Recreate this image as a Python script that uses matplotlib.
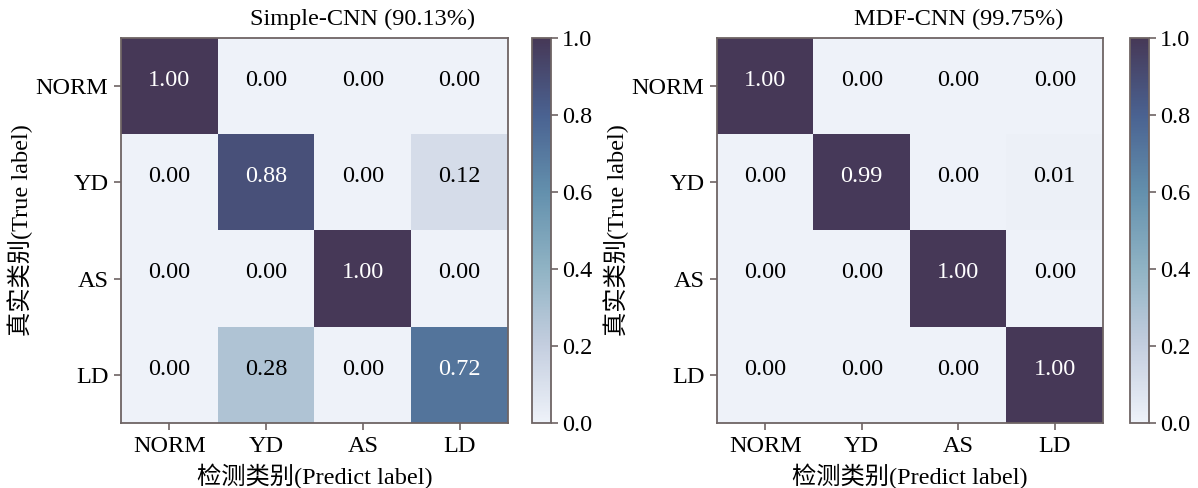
import numpy as np
import matplotlib
matplotlib.use("Agg")
import matplotlib.pyplot as plt
from matplotlib.colors import LinearSegmentedColormap

classes = ["NORM", "YD", "AS", "LD"]
simple_title = "Simple-CNN (90.13%)"
mdf_title = "MDF-CNN (99.75%)"
simple_cm = [[1.00, 0.00, 0.00, 0.00],
             [0.00, 0.88, 0.00, 0.12],
             [0.00, 0.00, 1.00, 0.00],
             [0.00, 0.28, 0.00, 0.72]]
mdf_cm = [[1.00, 0.00, 0.00, 0.00],
          [0.00, 0.99, 0.00, 0.01],
          [0.00, 0.00, 1.00, 0.00],
          [0.00, 0.00, 0.00, 1.00]]
cbar_ticks = [0.0, 0.2, 0.4, 0.6, 0.8, 1.0]

plt.rcParams['font.family'] = ['Liberation Serif', 'Noto Sans CJK SC']
plt.rcParams['axes.unicode_minus'] = False

cmap = LinearSegmentedColormap.from_list(
    "cm", ["#eef2f9", "#c4cedf", "#90b3c4", "#6390ad", "#4a6291", "#463857"])

edge = "#6e6464"
fig = plt.figure(figsize=(11.98, 4.88), dpi=100)
W, H = 1198, 488

def px(x0, y0, x1, y1):
    return [x0 / W, 1 - y1 / H, (x1 - x0) / W, (y1 - y0) / H]

panels = [(simple_cm, simple_title, px(121, 38, 508, 423), px(532, 38, 551, 423)),
          (mdf_cm, mdf_title, px(717, 38, 1103, 423), px(1130, 38, 1149, 423))]

fs = 17.5
for cm, title, apos, cpos in panels:
    ax = fig.add_axes(apos)
    data = np.array(cm)
    im = ax.imshow(data, cmap=cmap, vmin=0, vmax=1, aspect='auto')
    n = len(classes)
    for i in range(n):
        for j in range(n):
            v = data[i, j]
            ax.text(j, i - 0.06, f"{v:.2f}", ha='center', va='center', fontsize=fs,
                    color='white' if v > 0.5 else 'black')
    ax.set_xticks(range(n))
    ax.set_yticks(range(n))
    ax.set_xticklabels(classes, fontsize=fs)
    ax.set_yticklabels(classes, fontsize=fs)
    ax.text(0.625, 1.02, title, transform=ax.transAxes, ha='center', va='bottom',
            fontsize=fs)
    ax.set_xlabel("检测类别(Predict label)", fontsize=fs, labelpad=5)
    ax.set_ylabel("真实类别(True label)", fontsize=fs, labelpad=2)
    for s in ax.spines.values():
        s.set_color(edge)
        s.set_linewidth(1.3)
    ax.tick_params(length=5, width=1.2, color=edge, pad=4)
    cax = fig.add_axes(cpos)
    cb = fig.colorbar(im, cax=cax, ticks=cbar_ticks)
    cb.ax.set_yticklabels([f"{t:.1f}" for t in cbar_ticks], fontsize=fs)
    cb.outline.set_edgecolor(edge)
    cb.outline.set_linewidth(1.3)
    cb.ax.tick_params(length=5, width=1.2, color=edge, pad=3)

fig.savefig("out.png", dpi=100)
